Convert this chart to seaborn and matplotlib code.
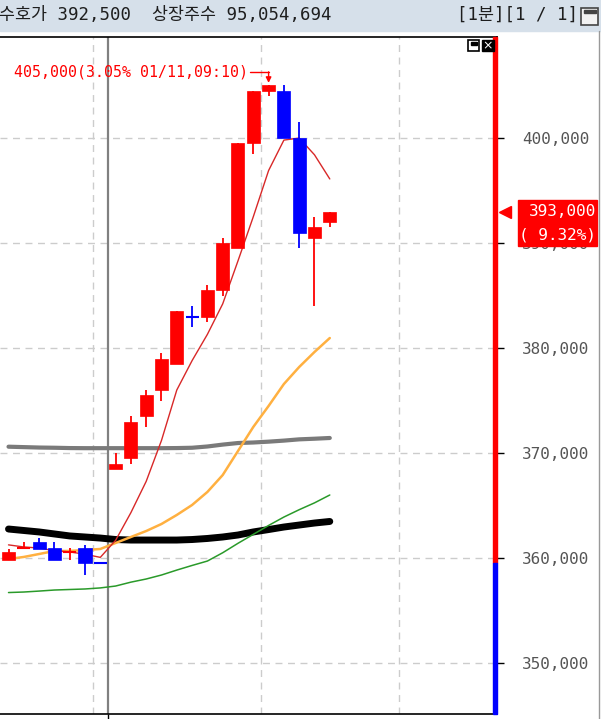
import numpy as np
import pandas as pd
import matplotlib
matplotlib.use("Agg")
import matplotlib.pyplot as plt
import matplotlib.transforms as mtransforms
from matplotlib.patches import Rectangle
import seaborn as sns

# 1-minute candles (end of 01/10 -> 01/11 09:14)
idx = list(range(22))
opens = [359800, 361000, 361500, 361000, 360600, 361000, 359500, 368500, 369500, 373500, 376000,
         378500, 383000, 383000, 385500, 389500, 399500, 404500, 404500, 400000, 390500, 392000]
highs = [360900, 361500, 361900, 361500, 361000, 361200, 359500, 370000, 373500, 376000, 379500,
         383500, 384000, 386000, 390500, 399500, 404500, 405000, 405000, 401500, 392500, 393000]
lows = [359800, 361000, 360900, 359800, 359800, 358400, 359500, 368500, 369000, 372500, 375000,
        378500, 382000, 382500, 385000, 389500, 398500, 404000, 400000, 389500, 384000, 391500]
closes = [360600, 361000, 360900, 359800, 360600, 359500, 359500, 369000, 373000, 375500, 379000,
          383500, 383000, 385500, 390000, 399500, 404500, 405000, 400000, 391000, 391500, 393000]

# moving averages
ma5 = [361250, 361050, 360950, 360700, 360580, 360360, 360060, 361680, 364320, 367300, 371200,
       376000, 378800, 381300, 384200, 388300, 392500, 396900, 399800, 400000, 398400, 396100]
ma20 = [359900, 360100, 360380, 360670, 360670, 360760, 360860, 361430, 362000, 362570, 363240,
        364100, 365050, 366290, 367900, 370190, 372480, 374480, 376570, 378190, 379620, 380950]
ma60 = [356710, 356760, 356850, 356950, 357000, 357050, 357150, 357330, 357700, 358000, 358380,
        358850, 359290, 359710, 360500, 361400, 362250, 363100, 363900, 364600, 365250, 366000]
ma120 = [362760, 362620, 362480, 362290, 362100, 362000, 361900, 361760, 361710, 361710, 361710,
         361710, 361760, 361860, 362000, 362190, 362480, 362710, 362950, 363140, 363330, 363480]
ma240 = [370600, 370560, 370520, 370500, 370470, 370460, 370460, 370460, 370460, 370460, 370460,
         370470, 370500, 370620, 370800, 370950, 371000, 371080, 371180, 371300, 371360, 371430]

yticks = [350000, 360000, 370000, 380000, 390000, 400000]
prev_close = 359500
cur_price = 393000
cur_rate = 9.32
high_price = 405000
high_idx = 17
high_rate = 3.05
high_label = "01/11,09:10"
day_split = 6.5
vgrid = [5.5, 16.5, 25.5]

RED, BLUE = "#FF0000", "#0000FF"

df = pd.DataFrame(dict(i=idx, o=opens, h=highs, l=lows, c=closes))
prev = df["c"].shift(1).fillna(df["o"].iloc[0])
df["up"] = (df["c"] > df["o"]) | ((df["c"] == df["o"]) & (df["c"] > prev))
df["col"] = np.where(df["up"], RED, BLUE)
df["bot"] = df[["o", "c"]].min(axis=1)
df["ht"] = (df["c"] - df["o"]).abs()

sns.set_style("white")
plt.rcParams["font.family"] = ["DejaVu Sans Mono", "Noto Sans CJK KR"]

W, H = 601, 719
fig = plt.figure(figsize=(W / 100, H / 100), dpi=100)
fig.patch.set_facecolor("white")
ax = fig.add_axes([0, 5 / H, 497 / W, 677 / H])
ax.set_facecolor("white")
ax.set_xlim(-0.556, 31.93)
ax.set_ylim(345143, 409619)

# grid
for y in yticks:
    ax.axhline(y, color="#cccccc", lw=1, ls=(0, (5, 4)), zorder=0)
for x in vgrid:
    ax.axvline(x, color="#cccccc", lw=1, ls=(0, (5, 4)), zorder=0)
ax.axvline(day_split, color="#808080", lw=1.6, zorder=1)

# moving averages
sns.lineplot(x=idx, y=ma240, ax=ax, color="#7a7a7a", lw=3, zorder=2)
sns.lineplot(x=idx, y=ma120, ax=ax, color="black", lw=5, zorder=2)
sns.lineplot(x=idx, y=ma60, ax=ax, color="#2a9a2a", lw=1.1, zorder=2)
sns.lineplot(x=idx, y=ma20, ax=ax, color="#ffb040", lw=1.8, zorder=2)
sns.lineplot(x=idx, y=ma5, ax=ax, color="#d82828", lw=1.0, zorder=2)

# candles
ax.vlines(df["i"], df["l"], df["h"], colors=df["col"], lw=1.3, zorder=3)
body = df[df["ht"] > 0]
ax.bar(body["i"], body["ht"], bottom=body["bot"], width=0.85, color=body["col"],
       edgecolor=body["col"], lw=0.5, zorder=4)
doji = df[df["ht"] == 0]
ax.hlines(doji["o"], doji["i"] - 0.42, doji["i"] + 0.42, colors=doji["col"], lw=1.5, zorder=4)

# high annotation
ann_y = high_price + 1300
ax.text(high_idx - 1.35, ann_y, f"{high_price:,}({high_rate:.2f}% {high_label})",
        color=RED, fontsize=10.7, ha="right", va="center")
ax.plot([high_idx - 1.22, high_idx], [ann_y, ann_y], color=RED, lw=1)
ax.annotate("", xy=(high_idx, high_price + 250), xytext=(high_idx, ann_y),
            arrowprops=dict(arrowstyle="-|>", color=RED, lw=1, mutation_scale=8,
                            shrinkA=0, shrinkB=0))

# axes styling
for s in ["left"]:
    ax.spines[s].set_visible(False)
for s in ["top", "right", "bottom"]:
    ax.spines[s].set_color("black")
    ax.spines[s].set_linewidth(1.2)
ax.yaxis.tick_right()
ax.set_yticks(yticks)
ax.set_yticklabels([f"{v:,}" for v in yticks])
ax.tick_params(axis="y", right=True, length=5, width=1, color="black", pad=13,
               labelsize=11.5, labelcolor="#555555")
ax.set_xticks([day_split])
ax.set_xticklabels([""])
ax.tick_params(axis="x", bottom=True, length=5, width=1, color="black")
ax.set_xlabel("")
ax.set_ylabel("")

# up/down bar along right axis
blend = mtransforms.blended_transform_factory(ax.transAxes, ax.transData)
ax.add_patch(Rectangle((1 - 4 / 497, prev_close), 4 / 497, 409619 - prev_close,
                       transform=blend, color=RED, zorder=5, clip_on=False))
ax.add_patch(Rectangle((1 - 4 / 497, 345143), 4 / 497, prev_close - 345143,
                       transform=blend, color=BLUE, zorder=5, clip_on=False))
ax.plot([1.016], [cur_price], marker="<", ms=8, color=RED, transform=blend, clip_on=False)

# current price tag
ident = mtransforms.IdentityTransform()
ypx = ax.transData.transform((0, cur_price))[1]
fig.add_artist(Rectangle((518, ypx - 34), 79, 46, transform=ident, color=RED))
fig.text(596, ypx, f"{cur_price:,}", transform=ident, color="white", fontsize=11.5,
         ha="right", va="center")
fig.text(596, ypx - 23, f"({cur_rate:5.2f}%)", transform=ident, color="white", fontsize=11.5,
         ha="right", va="center")

# header bar
fig.add_artist(Rectangle((0, H - 31), W, 31, transform=ident, color="#d6e0ea"))
fig.text(-1, H - 15, "수호가 392,500  상장주수 95,054,694", transform=ident, color="#1e1e1e",
         fontsize=12.5, ha="left", va="center")
fig.text(578, H - 15, "[1분][1 / 1]", transform=ident, color="#1e1e1e",
         fontsize=12.5, ha="right", va="center")
fig.add_artist(Rectangle((581, H - 25), 17, 17, transform=ident, fc="#f2f2f2", ec="#444444", lw=1.2))
fig.add_artist(Rectangle((583.5, H - 13), 12, 3, transform=ident, color="#444444"))

# small panel icons
fig.add_artist(Rectangle((468, H - 51), 11, 11, transform=ident, fc="white", ec="black", lw=1.2))
fig.add_artist(Rectangle((470.5, H - 44.5), 6, 2.5, transform=ident, color="black"))
fig.add_artist(Rectangle((482, H - 51), 12, 11, transform=ident, color="black"))
fig.text(488, H - 45.5, "×", transform=ident, color="white", fontsize=9, ha="center",
         va="center", family="DejaVu Sans")

# panel border on the right
fig.add_artist(plt.Line2D([599, 599], [0, H - 31], transform=ident, color="#999999", lw=1))

fig.savefig("out.png", dpi=100)
